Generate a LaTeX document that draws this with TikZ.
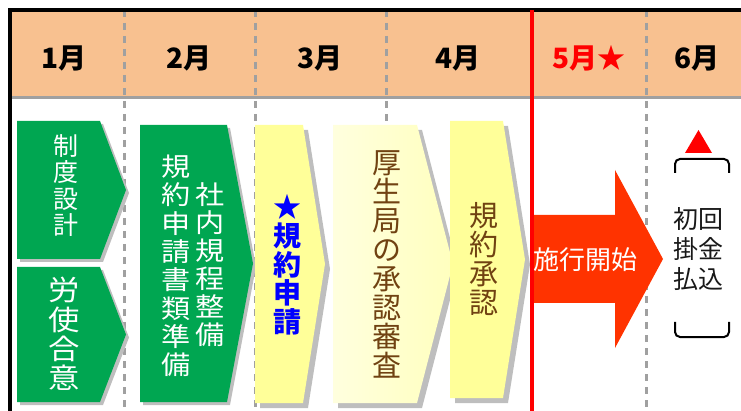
\documentclass[tikz,border=0pt]{standalone}
\usepackage{fontspec}
\setmainfont{Noto Sans CJK JP}
\newfontfamily\widecjk[FakeStretch=1.12]{Noto Sans CJK JP}
\definecolor{hdr}{RGB}{248,193,144}
\definecolor{grn}{RGB}{0,166,81}
\definecolor{yel}{RGB}{255,255,153}
\definecolor{paleyelL}{RGB}{255,255,222}
\definecolor{paleyelR}{RGB}{255,255,190}
\definecolor{shadowgray}{RGB}{190,190,190}
\definecolor{dashgray}{RGB}{160,160,160}
\definecolor{brn}{RGB}{112,66,18}
\definecolor{redarrow}{RGB}{255,51,0}
\definecolor{bluetext}{RGB}{0,0,255}
\newcommand\chev[7]{%
  \fill[shadowgray, shift={(#7,#7)}] (#2,#3) -- (#4,#3) -- (#5,{(#3+#6)/2}) -- (#4,#6) -- (#2,#6) -- cycle;
  \path[#1] (#2,#3) -- (#4,#3) -- (#5,{(#3+#6)/2}) -- (#4,#6) -- (#2,#6) -- cycle;}
\tikzset{
  monthlbl/.style={inner sep=0, font=\bfseries\fontsize{28}{28}\selectfont},
  vwhite/.style={align=center, inner sep=0, text=white},
  vbrown/.style={align=center, inner sep=0, text=brn, font=\fontsize{29}{29}\selectfont},
  dashline/.style={draw=dashgray, line width=3pt, dash pattern=on 7pt off 6pt},
}
\begin{document}
\begin{tikzpicture}[x=1pt,y=-1pt]
\useasboundingbox (0,0) rectangle (741,411);
% header
\fill[hdr] (10,10) rectangle (741,98);
% dashed column separators
\foreach \xx in {124,255,386,646} \draw[dashline] (\xx,10) -- (\xx,411);
\draw[dashgray, line width=3pt] (8,98) -- (741,98);
% borders
\draw[black, line width=4pt] (8,10) -- (741,10);
\draw[black, line width=4pt] (10,10) -- (10,411);
% month labels
\node[monthlbl] (m1) at (64,58) {1月};
\node[monthlbl] (m2) at (189,58) {2月};
\node[monthlbl] (m3) at (320,58) {3月};
\node[monthlbl] (m4) at (458,58) {4月};
\node[monthlbl, text=red] (m5) at (589,58) {5月★};
\node[monthlbl] (m6) at (697,58) {6月};
% green chevrons
\chev{fill=grn}{17}{121}{100}{126}{259}{3}
\chev{fill=grn}{17}{267}{100}{126}{402}{3}
\chev{fill=grn}{140}{125}{227}{253}{402}{3}
% yellow chevrons
\chev{fill=yel}{255}{125}{303}{325}{403}{5}
\chev{left color=paleyelL, right color=paleyelR}{333}{125}{417}{453}{403}{5}
\chev{fill=yel}{450}{121}{503}{525}{398}{5}
% red arrow
\fill[redarrow] (532,215) -- (615,215) -- (615,170) -- (663,259) -- (615,348) -- (615,303) -- (532,303) -- cycle;
% red vertical line
\draw[red, line width=4.5pt] (532,10) -- (532,411);
% texts in chevrons
\node[vwhite, font=\fontsize{25}{26.3}\selectfont] (seido) at (66,185.5) {制\\度\\設\\計};
\node[vwhite, font=\widecjk\fontsize{28}{29.3}\selectfont] (roshi) at (64,334) {労\\使\\合\\意};
\node[vwhite, font=\widecjk\fontsize{26}{28.3}\selectfont] (kiyaku) at (176,266) {規\\約\\申\\請\\書\\類\\準\\備};
\node[vwhite, font=\widecjk\fontsize{26}{28}\selectfont] (shanai) at (210,265) {社\\内\\規\\程\\整\\備};
\node[align=center, inner sep=0, text=bluetext, font=\bfseries\fontsize{28}{28.7}\selectfont] (shinsei) at (287,265) {★\\規\\約\\申\\請};
\node[vbrown] (shinsa) at (387,264) {厚\\生\\局\\の\\承\\認\\審\\査};
\node[vbrown] (shonin) at (484,259) {規\\約\\承\\認};
\node[inner sep=0, text=white, font=\fontsize{26}{26}\selectfont] (shiko) at (585,260) {施行開始};
% June: first payment
\fill[red] (685,153) -- (712,153) -- (698.5,130) -- cycle;
\draw[black, line width=2pt, rounded corners=5pt] (675,173) -- (675,159) -- (729,159) -- (729,173);
\draw[black, line width=2pt, rounded corners=5pt] (675,322) -- (675,337) -- (729,337) -- (729,322);
\node[align=center, inner sep=0, text=black!90, font=\fontsize{25}{30}\selectfont] (shokai) at (698,249) {初回\\掛金\\払込};
\end{tikzpicture}
\end{document}
